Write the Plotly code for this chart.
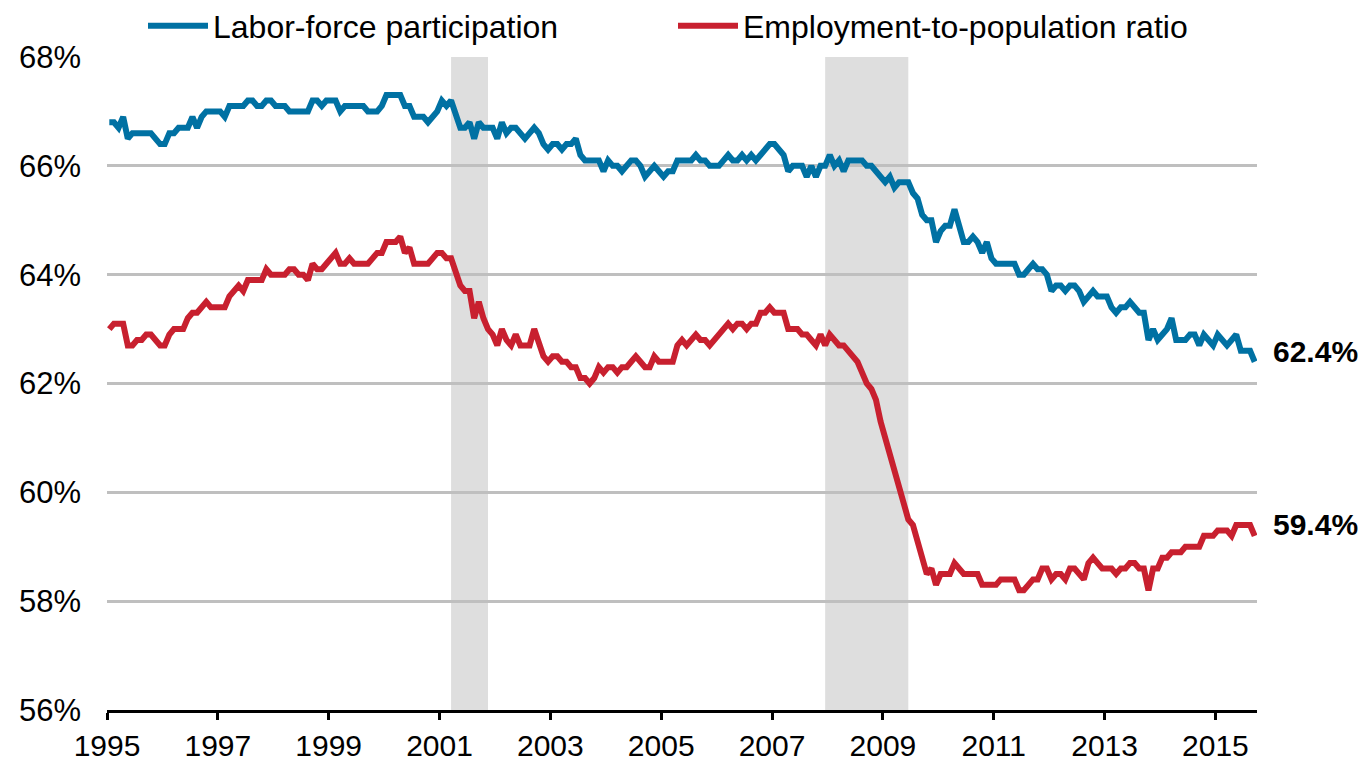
import plotly.graph_objects as go

# ---------------- data (monthly, Jan 1995 - Sep 2015) ----------------
start_year = 1995

lfpr = [
    66.8, 66.8, 66.7, 66.9, 66.5, 66.6, 66.6, 66.6, 66.6, 66.6, 66.5, 66.4,  # 1995
    66.4, 66.6, 66.6, 66.7, 66.7, 66.7, 66.9, 66.7, 66.9, 67.0, 67.0, 67.0,  # 1996
    67.0, 66.9, 67.1, 67.1, 67.1, 67.1, 67.2, 67.2, 67.1, 67.1, 67.2, 67.2,  # 1997
    67.1, 67.1, 67.1, 67.0, 67.0, 67.0, 67.0, 67.0, 67.2, 67.2, 67.1, 67.2,  # 1998
    67.2, 67.2, 67.0, 67.1, 67.1, 67.1, 67.1, 67.1, 67.0, 67.0, 67.0, 67.1,  # 1999
    67.3, 67.3, 67.3, 67.3, 67.1, 67.1, 66.9, 66.9, 66.9, 66.8, 66.9, 67.0,  # 2000
    67.2, 67.1, 67.2, 66.9, 66.7, 66.7, 66.8, 66.5, 66.8, 66.7, 66.7, 66.7,  # 2001
    66.5, 66.8, 66.6, 66.7, 66.7, 66.6, 66.5, 66.6, 66.7, 66.6, 66.4, 66.3,  # 2002
    66.4, 66.4, 66.3, 66.4, 66.4, 66.5, 66.2, 66.1, 66.1, 66.1, 66.1, 65.9,  # 2003
    66.1, 66.0, 66.0, 65.9, 66.0, 66.1, 66.1, 66.0, 65.8, 65.9, 66.0, 65.9,  # 2004
    65.8, 65.9, 65.9, 66.1, 66.1, 66.1, 66.1, 66.2, 66.1, 66.1, 66.0, 66.0,  # 2005
    66.0, 66.1, 66.2, 66.1, 66.1, 66.2, 66.1, 66.2, 66.1, 66.2, 66.3, 66.4,  # 2006
    66.4, 66.3, 66.2, 65.9, 66.0, 66.0, 66.0, 65.8, 66.0, 65.8, 66.0, 66.0,  # 2007
    66.2, 66.0, 66.1, 65.9, 66.1, 66.1, 66.1, 66.1, 66.0, 66.0, 65.9, 65.8,  # 2008
    65.7, 65.8, 65.6, 65.7, 65.7, 65.7, 65.5, 65.4, 65.1, 65.0, 65.0, 64.6,  # 2009
    64.8, 64.9, 64.9, 65.2, 64.9, 64.6, 64.6, 64.7, 64.6, 64.4, 64.6, 64.3,  # 2010
    64.2, 64.2, 64.2, 64.2, 64.2, 64.0, 64.0, 64.1, 64.2, 64.1, 64.1, 64.0,  # 2011
    63.7, 63.8, 63.8, 63.7, 63.8, 63.8, 63.7, 63.5, 63.6, 63.7, 63.6, 63.6,  # 2012
    63.6, 63.4, 63.3, 63.4, 63.4, 63.5, 63.4, 63.3, 63.3, 62.8, 63.0, 62.8,  # 2013
    62.9, 63.0, 63.2, 62.8, 62.8, 62.8, 62.9, 62.9, 62.7, 62.9, 62.8, 62.7,  # 2014
    62.9, 62.8, 62.7, 62.8, 62.9, 62.6, 62.6, 62.6, 62.4,                    # 2015
]

epop = [
    63.0, 63.1, 63.1, 63.1, 62.7, 62.7, 62.8, 62.8, 62.9, 62.9, 62.8, 62.7,  # 1995
    62.7, 62.9, 63.0, 63.0, 63.0, 63.2, 63.3, 63.3, 63.4, 63.5, 63.4, 63.4,  # 1996
    63.4, 63.4, 63.6, 63.7, 63.8, 63.7, 63.9, 63.9, 63.9, 63.9, 64.1, 64.0,  # 1997
    64.0, 64.0, 64.0, 64.1, 64.1, 64.0, 64.0, 63.9, 64.2, 64.1, 64.1, 64.2,  # 1998
    64.3, 64.4, 64.2, 64.2, 64.3, 64.2, 64.2, 64.2, 64.2, 64.3, 64.4, 64.4,  # 1999
    64.6, 64.6, 64.6, 64.7, 64.4, 64.5, 64.2, 64.2, 64.2, 64.2, 64.3, 64.4,  # 2000
    64.4, 64.3, 64.3, 64.0, 63.8, 63.7, 63.7, 63.2, 63.5, 63.2, 63.0, 62.9,  # 2001
    62.7, 63.0, 62.8, 62.7, 62.9, 62.7, 62.7, 62.7, 63.0, 62.7, 62.5, 62.4,  # 2002
    62.5, 62.5, 62.4, 62.4, 62.3, 62.3, 62.1, 62.1, 62.0, 62.1, 62.3, 62.2,  # 2003
    62.3, 62.3, 62.2, 62.3, 62.3, 62.4, 62.5, 62.4, 62.3, 62.3, 62.5, 62.4,  # 2004
    62.4, 62.4, 62.4, 62.7, 62.8, 62.7, 62.8, 62.9, 62.8, 62.8, 62.7, 62.8,  # 2005
    62.9, 63.0, 63.1, 63.0, 63.1, 63.1, 63.0, 63.1, 63.1, 63.3, 63.3, 63.4,  # 2006
    63.3, 63.3, 63.3, 63.0, 63.0, 63.0, 62.9, 62.9, 62.8, 62.7, 62.9, 62.7,  # 2007
    62.9, 62.8, 62.7, 62.7, 62.6, 62.5, 62.4, 62.2, 62.0, 61.9, 61.7, 61.3,  # 2008
    61.0, 60.6, 60.3, 60.0, 59.8, 59.5, 59.4, 59.1, 58.7, 58.5, 58.6, 58.3,  # 2009
    58.5, 58.5, 58.5, 58.7, 58.6, 58.5, 58.5, 58.5, 58.5, 58.3, 58.3, 58.3,  # 2010
    58.3, 58.4, 58.4, 58.4, 58.4, 58.2, 58.2, 58.3, 58.4, 58.4, 58.6, 58.6,  # 2011
    58.4, 58.5, 58.5, 58.4, 58.6, 58.6, 58.5, 58.4, 58.7, 58.8, 58.7, 58.6,  # 2012
    58.6, 58.6, 58.5, 58.6, 58.6, 58.7, 58.7, 58.6, 58.6, 58.2, 58.6, 58.6,  # 2013
    58.8, 58.8, 58.9, 58.9, 58.9, 59.0, 59.0, 59.0, 59.0, 59.2, 59.2, 59.2,  # 2014
    59.3, 59.3, 59.3, 59.2, 59.4, 59.4, 59.4, 59.4, 59.2,                    # 2015
]

series_names = ["Labor-force participation", "Employment-to-population ratio"]
series_colors = ["#0071A3", "#C8202F"]
end_labels = ["62.4%", "59.4%"]
end_label_y = [62.4, 59.4]
end_label_shift = [10, 0]

# recessions: (start year, month), (end year, month)
recessions = [((2001, 3), (2001, 11)), ((2007, 12), (2009, 6))]

x_tick_years = list(range(1995, 2016, 2))
x_tick_text = [str(y) for y in x_tick_years]
y_tick_vals = list(range(56, 69, 2))
y_tick_text = [f"{v}%" for v in y_tick_vals]


def month_pos(year, month):
    return year + (month - 0.5) / 12.0


dates = [month_pos(start_year + i // 12, i % 12 + 1) for i in range(len(lfpr))]

FONT = "Liberation Sans, Arial, Helvetica, sans-serif"

# the page body adds an 8px offset; size the figure to fit the 1366x769 window
W, H = 1350, 753

fig = go.Figure()
for name, vals, col in zip(series_names, [lfpr, epop], series_colors):
    fig.add_trace(go.Scatter(
        x=dates, y=vals, mode="lines", name=name,
        line=dict(color=col, width=6),
        hoverinfo="skip",
    ))

for (s, e) in recessions:
    fig.add_shape(type="rect", xref="x", yref="paper",
                  x0=month_pos(*s), x1=month_pos(*e), y0=0, y1=1,
                  fillcolor="#DEDEDE", line=dict(width=0), layer="below")

for txt, yv, ys in zip(end_labels, end_label_y, end_label_shift):
    fig.add_annotation(x=dates[-1], y=yv, text=f"<b>{txt}</b>", showarrow=False,
                       xanchor="left", yanchor="middle", xshift=16, yshift=ys,
                       font=dict(family=FONT, size=30, color="black"))

fig.update_layout(
    width=W, height=H,
    paper_bgcolor="white", plot_bgcolor="white",
    margin=dict(l=99, r=101, t=49, b=51, autoexpand=False),
    font=dict(family=FONT, size=30, color="black"),
    showlegend=True,
    legend=dict(orientation="h",
                xref="container", x=135 / W, xanchor="left",
                yref="container", y=1 - 18 / H, yanchor="middle",
                font=dict(family=FONT, size=32, color="black"),
                itemwidth=60, entrywidth=455,
                bgcolor="rgba(0,0,0,0)"),
    xaxis=dict(range=[1995, 2015.75], tickmode="array",
               tickvals=x_tick_years, ticktext=x_tick_text,
               ticks="outside", ticklen=7, tickwidth=2.5, tickcolor="black",
               showline=True, linecolor="black", linewidth=3,
               showgrid=False, zeroline=False, automargin=False,
               tickfont=dict(family=FONT, size=30, color="black")),
    yaxis=dict(range=[56, 68], tickmode="array",
               tickvals=y_tick_vals, ticktext=y_tick_text,
               showgrid=True, gridcolor="#BFBFBF", gridwidth=2.5,
               showline=False, zeroline=False, ticks="", automargin=False,
               ticklabelstandoff=25,
               tickfont=dict(family=FONT, size=31, color="black")),
)

fig.write_html("out.html")
